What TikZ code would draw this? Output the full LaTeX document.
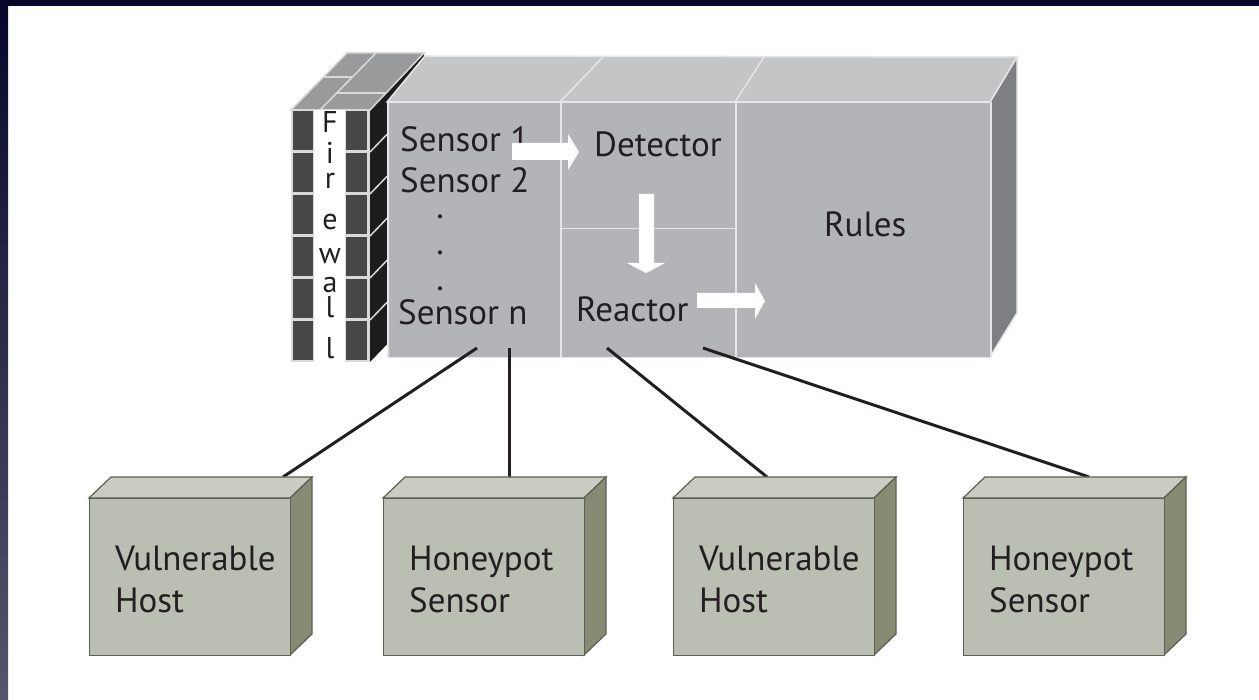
\documentclass[tikz,border=0pt]{standalone}
\usepackage{fontspec}
\setmainfont{PT Sans}
\usetikzlibrary{calc}

\definecolor{frameTop}{HTML}{06062A}
\definecolor{frameBot}{HTML}{55556E}
\definecolor{mainFront}{HTML}{B3B4B8}
\definecolor{mainTop}{HTML}{C4C5C7}
\definecolor{mainSide}{HTML}{7E7F83}
\definecolor{mainEdge}{HTML}{E6E6E8}
\definecolor{fwDark}{HTML}{474747}
\definecolor{fwSide}{HTML}{1C1C1C}
\definecolor{fwTop}{HTML}{999A9C}
\definecolor{fwMortar}{HTML}{D9D9D9}
\definecolor{hostFront}{HTML}{BBBEB3}
\definecolor{hostTop}{HTML}{C9CCC3}
\definecolor{hostSide}{HTML}{878B73}
\definecolor{hostEdge}{HTML}{5C6050}
\definecolor{ink}{HTML}{231F20}

\begin{document}
\begin{tikzpicture}[x=1pt,y=-1pt,
  label/.style={inner sep=0pt, text=ink, font=\fontsize{35}{40}\selectfont},
  mortar/.style={draw=fwMortar, line width=1.5pt},
  compart/.style={draw=mainEdge, line width=1.5pt, fill=mainFront, inner sep=0pt, anchor=north west},
  hostfront/.style={draw=hostEdge, line width=1.2pt, fill=hostFront, inner sep=0pt,
    minimum width=201pt, minimum height=157pt},
  wire/.style={draw=ink, line width=3pt},
  blockarrow/.style={fill=white}]
\useasboundingbox (0,0) rectangle (1259,700);
\fill[white] (0,0) rectangle (1259,700);

% dark frame along the top and left edges
\shade[top color=frameTop, bottom color=frameBot] (0,0) rectangle (8,700);
\fill[frameTop] (0,0) rectangle (1259,6);

% ---------- firewall ----------
% side face with brick joints
\fill[fwSide] (370,110) -- (424,53) -- (424,306) -- (370,362) -- cycle;
\foreach \yy in {152,194,236,278,320}
  \draw[mortar] (370,\yy) -- ++(54,-56);
% top face with bricks
\fill[fwTop, mortar] (291,110) -- (347,53) -- (424,53) -- (370,110) -- cycle;
\draw[mortar] (320,110) -- (376,53);
\draw[mortar] (323,77) -- (353,77);
\draw[mortar] (337,93) -- (387,93);
% front face
\node[fill=fwMortar, inner sep=0pt, minimum width=79pt, minimum height=252pt, anchor=north west] (fw) at (291,110) {};
\fill[white] (314,110) rectangle (345,362);
\foreach \k in {0,...,5} {
  \fill[fwDark] (293,{111.5+42*\k}) rectangle (313,{150.5+42*\k});
  \fill[fwDark] (346,{111.5+42*\k}) rectangle (367,{150.5+42*\k});
}
\node[inner sep=0pt, text=ink, font=\fontsize{30}{25}\selectfont, align=center, anchor=north]
  (fwtext) at (330,111) {F\\[6pt]i\\r\\[16pt]e\\[9pt]w\\[4pt]a\\l\\[16pt]l};

% ---------- IDS box ----------
\fill[mainSide, draw=mainEdge, line width=1.5pt] (990,102) -- (1017,57) -- (1017,313) -- (990,357) -- cycle;
\fill[mainTop, draw=mainEdge, line width=1.5pt] (387,102) -- (425,56) -- (1017,57) -- (990,102) -- cycle;
\draw[mainEdge, line width=1.5pt] (560,102) -- (603,57);
\draw[mainEdge, line width=1.5pt] (735,102) -- (764,57);

\node[compart, minimum width=173pt, minimum height=255pt] (sensors) at (387,102) {};
\node[compart, minimum width=175pt, minimum height=126pt] (detector) at (560,102) {};
\node[compart, minimum width=175pt, minimum height=129pt] (reactor) at (560,228) {};
\node[compart, minimum width=255pt, minimum height=255pt] (rules) at (735,102) {};

\node[label, anchor=base west] (s1) at (400,152) {Sensor 1};
\node[label, anchor=base west] (s2) at (400,193) {Sensor 2};
\node[label, font=\fontsize{35}{36}\selectfont, align=center, anchor=north] (dots) at (440,215) {.\\.\\.};
\node[label, anchor=base west] (sn) at (398,325) {Sensor n};
\node[label, anchor=base west] (det) at (594,157) {Detector};
\node[label, anchor=base west] (rea) at (576,322) {Reactor};
\node[label, anchor=base west] (rul) at (824,237) {Rules};

% flow arrows: sensors -> detector -> reactor -> rules
\fill[blockarrow] (512,143) -- (568,143) -- (568,134) -- (579,152) -- (568,170) -- (568,160) -- (512,160) -- cycle;
\fill[blockarrow] (639,194) -- (654,194) -- (654,263) -- (665,263) -- (646,273) -- (627,263) -- (639,263) -- cycle;
\fill[blockarrow] (697,293) -- (755,293) -- (755,283) -- (765,301) -- (755,319) -- (755,308) -- (697,308) -- cycle;

% ---------- hosts and honeypots ----------
\coordinate (tapA) at (477,348);
\coordinate (tapB) at (509,348);
\coordinate (tapC) at (607,348);
\coordinate (tapD) at (703,348);
\coordinate (endA) at (283,477);
\coordinate (endB) at (509,477);
\coordinate (endC) at (767,477);
\coordinate (endD) at (1089,477);
\draw[wire] (tapA) -- (endA);
\draw[wire] (tapB) -- (endB);
\draw[wire] (tapC) -- (endC);
\draw[wire] (tapD) -- (endD);

\foreach \n/\x/\la/\lb in {1/89/Vulnerable/Host, 2/383/Honeypot/Sensor, 3/673/Vulnerable/Host, 4/963/Honeypot/Sensor} {
  \fill[hostTop, draw=hostEdge, line width=1.2pt] (\x,498) -- ++(22,-21) -- ++(201,0) -- ++(-22,21) -- cycle;
  \fill[hostSide, draw=hostEdge, line width=1.2pt] (\x+201,498) -- ++(22,-21) -- ++(0,157) -- ++(-22,21) -- cycle;
  \node[hostfront, anchor=north west] (h\n) at (\x,498) {};
  \node[label, anchor=base west] at (\x+26,570) {\la};
  \node[label, anchor=base west] at (\x+26,612) {\lb};
}
\end{tikzpicture}
\end{document}
